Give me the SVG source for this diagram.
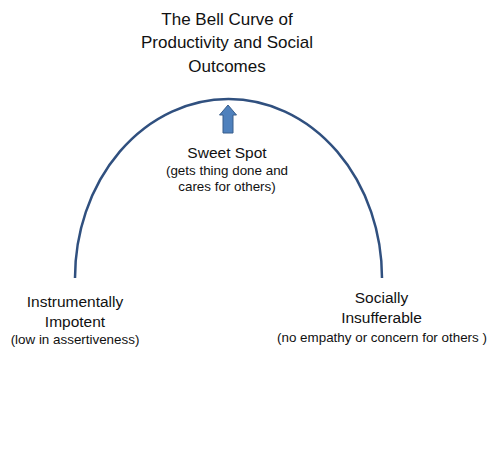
<svg xmlns="http://www.w3.org/2000/svg" width="500" height="467" viewBox="0 0 500 467">
<style>
text{font-family:"Liberation Sans",Arial,sans-serif;fill:#111;text-anchor:middle}
.t{font-size:17px}
.m{font-size:15.5px}
.s{font-size:13.4px}
</style>
<rect width="500" height="467" fill="#fff"/>
<g id="title">
<text class="t" x="227" y="25">The Bell Curve of</text>
<text class="t" x="227" y="48">Productivity and Social</text>
<text class="t" x="227" y="72">Outcomes</text>
</g>
<g id="connectors">
<path d="M75,278 A153.5,179 0 0 1 382,278" fill="none" stroke="#30507f" stroke-width="2.5"/>
<path d="M223,133 L223,115 L219.5,115 L228,105 L236.5,115 L233,115 L233,133 Z" fill="#4f81bd" stroke="#385d8a" stroke-width="1"/>
</g>
<g id="sweet-spot">
<text class="m" x="227" y="158">Sweet Spot</text>
<text class="s" x="227" y="175">(gets thing done and</text>
<text class="s" x="227" y="191">cares for others)</text>
</g>
<g id="instrumentally-impotent">
<text class="m" x="75" y="307">Instrumentally</text>
<text class="m" x="75" y="327">Impotent</text>
<text class="s" x="75" y="344">(low in assertiveness)</text>
</g>
<g id="socially-insufferable">
<text class="m" x="381.5" y="303">Socially</text>
<text class="m" x="381.5" y="323">Insufferable</text>
<text class="s" x="382" y="342">(no empathy or concern for others )</text>
</g>
</svg>
